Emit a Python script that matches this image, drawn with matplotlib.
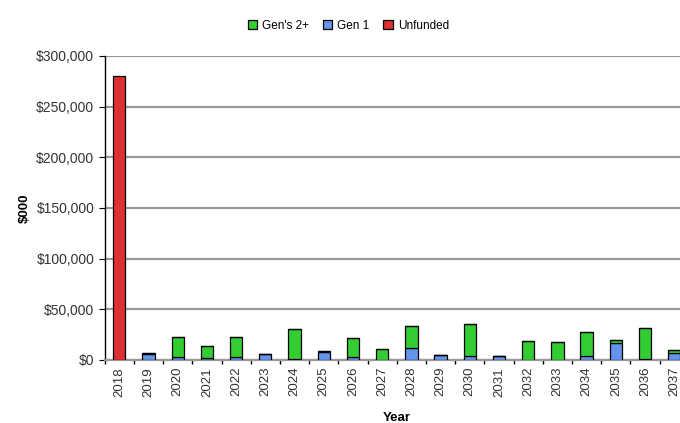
import numpy as np
import matplotlib.pyplot as plt
from matplotlib.ticker import FuncFormatter

plt.rcParams['font.family'] = ['Liberation Sans', 'DejaVu Sans']

years = [str(y) for y in range(2018, 2038)]
gen1 = [0, 5500, 3300, 1600, 3300, 5900, 600, 7500, 2900, 0,
        12100, 4600, 4300, 3600, 0, 0, 4300, 16400, 700, 6900]
gen2 = [0, 1500, 18900, 11800, 19600, 0, 30100, 1000, 18400, 11100,
        21300, 0, 31000, 0, 18300, 17700, 22800, 2900, 31300, 2900]
unfunded = [280000] + [0] * 19

c_gen2 = '#33cc33'
c_gen1 = '#6495ed'
c_unf = '#dd3030'

fig = plt.figure(figsize=(6.8, 4.23), dpi=100)
ax = fig.add_axes([0.154, 0.149, 0.859, 0.719])

x = np.arange(len(years))
g1 = np.array(gen1)
g2 = np.array(gen2)
un = np.array(unfunded)
w = 0.42
kw = dict(width=w, edgecolor='black', linewidth=0.9, zorder=3)
b1 = ax.bar(x, g1, color=c_gen1, **kw)
b2 = ax.bar(x, g2, bottom=g1, color=c_gen2, **kw)
b3 = ax.bar(x, un, bottom=g1 + g2, color=c_unf, **kw)

ax.set_xlim(-0.5, len(years) - 0.5)
ax.set_ylim(0, 300000)
ax.set_yticks(np.arange(0, 300001, 50000))
ax.yaxis.set_major_formatter(FuncFormatter(lambda v, p: '${:,.0f}'.format(v)))
ax.grid(axis='y', color='#999999', linewidth=1.6, zorder=0)

ax.set_xticks(x)
ax.set_xticklabels(years, rotation=90, fontsize=9.5, color='#333333')
ax.set_xticks(np.arange(-0.5, len(years), 1), minor=True)
ax.tick_params(axis='x', which='major', length=0, pad=5)
ax.tick_params(axis='x', which='minor', length=3, width=1)
ax.tick_params(axis='y', length=4, labelsize=10, labelcolor='#333333')

for s in ['top', 'right']:
    ax.spines[s].set_visible(False)
ax.spines['bottom'].set_color('#999999')
ax.spines['bottom'].set_linewidth(1.6)
ax.spines['left'].set_linewidth(1)

ax.set_ylabel('$000', fontweight='bold', fontsize=9.5, labelpad=4)
ax.set_xlabel('Year', fontweight='bold', fontsize=9.5, labelpad=11)

fig.legend([b2, b1, b3], ["Gen's 2+", 'Gen 1', 'Unfunded'], loc='upper center',
           bbox_to_anchor=(0.512, 0.978), ncol=3, frameon=False, fontsize=8.5,
           handlelength=0.8, handleheight=0.8, handletextpad=0.4, columnspacing=1.2)

fig.savefig('out.png', dpi=100)
